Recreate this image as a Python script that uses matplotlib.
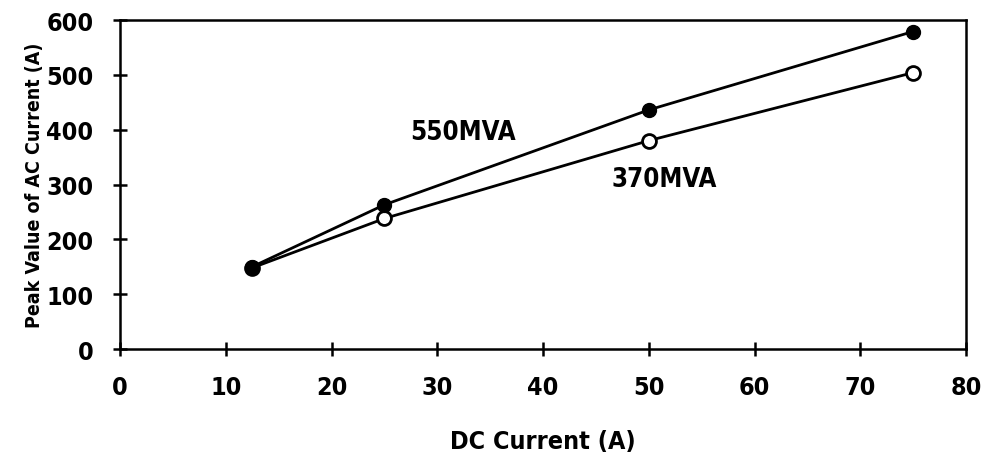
import matplotlib
matplotlib.use("Agg")
import matplotlib.pyplot as plt

dc_current = [12.5, 25, 50, 75]
peak_550 = [150, 263, 436, 579]
peak_370 = [148, 238, 380, 504]
x_ticks = [0, 10, 20, 30, 40, 50, 60, 70, 80]
y_ticks = [0, 100, 200, 300, 400, 500, 600]

plt.rcParams['font.family'] = ['DejaVu Sans']
plt.rcParams['font.stretch'] = 'condensed'
plt.rcParams['font.weight'] = 'bold'

fig = plt.figure(figsize=(9.88, 4.56), dpi=100)
ax = fig.add_axes([120 / 988, 1 - 350 / 456, 846 / 988, 329 / 456])

ax.plot(dc_current, peak_370, color='black', lw=2, marker='o', ms=10,
        mfc='white', mec='black', mew=2, zorder=3)
ax.plot(dc_current, peak_550, color='black', lw=2, marker='o', ms=10,
        mfc='black', mec='black', zorder=4)

ax.text(27.4, 396, '550MVA', fontsize=18.5, fontweight='bold', va='center', ha='left')
ax.text(46.5, 310, '370MVA', fontsize=18.5, fontweight='bold', va='center', ha='left')

ax.set_xlim(0, 80)
ax.set_ylim(0, 600)
ax.set_xticks(x_ticks)
ax.set_yticks(y_ticks)
ax.tick_params(direction='inout', length=10, width=1.8, labelsize=18)
ax.tick_params(axis='x', pad=14)
ax.tick_params(axis='y', pad=14)
for s in ax.spines.values():
    s.set_linewidth(1.8)

ax.set_xlabel('DC Current (A)', fontsize=18, fontweight='bold', labelpad=21)
ax.set_ylabel('Peak Value of AC Current (A)', fontsize=14, fontweight='bold', labelpad=2)

fig.savefig('out.png', dpi=100)
